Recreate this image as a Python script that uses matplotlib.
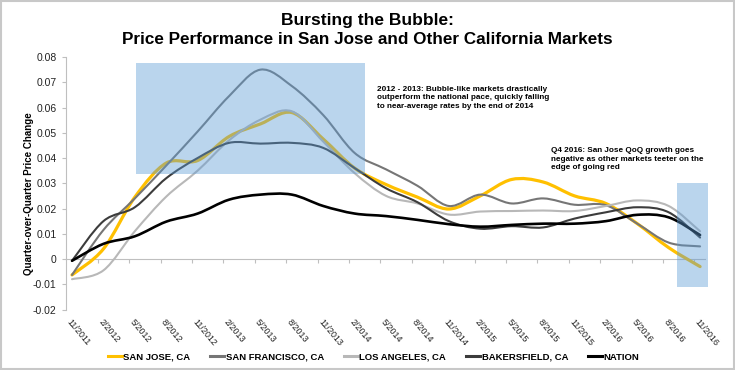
import matplotlib

matplotlib.use("Agg")
import matplotlib.pyplot as plt
import numpy as np
from matplotlib.lines import Line2D
from matplotlib.patches import PathPatch, Rectangle
from matplotlib.path import Path

plt.rcParams["font.family"] = ["Liberation Sans", "DejaVu Sans"]

# quarterly labels
quarters = [
    "11/2011", "2/2012", "5/2012", "8/2012", "11/2012", "2/2013", "5/2013",
    "8/2013", "11/2013", "2/2014", "5/2014", "8/2014", "11/2014", "2/2015",
    "5/2015", "8/2015", "11/2015", "2/2016", "5/2016", "8/2016", "11/2016",
]

san_jose = [-0.0063, 0.004, 0.0245, 0.038, 0.039, 0.0485, 0.0535, 0.058,
            0.0475, 0.036, 0.0295, 0.0245, 0.0198, 0.025, 0.0315, 0.0305,
            0.025, 0.022, 0.014, 0.0045, -0.003]
san_francisco = [-0.0063, 0.0115, 0.024, 0.037, 0.0505, 0.0645, 0.075, 0.0685,
                 0.057, 0.042, 0.0355, 0.029, 0.021, 0.0255, 0.022, 0.024,
                 0.0215, 0.0213, 0.014, 0.0065, 0.005]
los_angeles = [-0.008, -0.0045, 0.011, 0.0247, 0.035, 0.047, 0.0552, 0.0585,
               0.0465, 0.034, 0.025, 0.022, 0.0176, 0.0188, 0.019, 0.0192,
               0.019, 0.021, 0.0232, 0.021, 0.011]
bakersfield = [-0.0007, 0.015, 0.0205, 0.032, 0.040, 0.046, 0.0457, 0.046,
               0.044, 0.036, 0.028, 0.0225, 0.015, 0.012, 0.013, 0.0125,
               0.016, 0.0185, 0.0205, 0.0185, 0.0085]
nation = [-0.0007, 0.006, 0.009, 0.0148, 0.018, 0.0235, 0.0255, 0.0255,
          0.021, 0.018, 0.017, 0.0155, 0.0138, 0.0128, 0.0135, 0.014,
          0.014, 0.015, 0.0175, 0.0165, 0.0095]

series = [
    ("SAN JOSE, CA", san_jose, "#ffc000", 2.3),
    ("SAN FRANCISCO, CA", san_francisco, "#767676", 1.5),
    ("LOS ANGELES, CA", los_angeles, "#b8b8b8", 1.5),
    ("BAKERSFIELD, CA", bakersfield, "#3c3c3c", 1.5),
    ("NATION", nation, "#000000", 1.9),
]


def smooth_path(xs, ys):
    # Excel-style smoothed line: cubic bezier through every point
    xs = np.asarray(xs, float)
    ys = np.asarray(ys, float)
    pts = np.column_stack([xs, ys])
    n = len(pts)
    verts = [pts[0]]
    codes = [Path.MOVETO]
    for i in range(n - 1):
        p0 = pts[i - 1] if i > 0 else pts[i]
        p1 = pts[i]
        p2 = pts[i + 1]
        p3 = pts[i + 2] if i + 2 < n else pts[i + 1]
        c1 = p1 + (p2 - p0) / 6
        c2 = p2 - (p3 - p1) / 6
        verts += [c1, c2, p2]
        codes += [Path.CURVE4] * 3
    return Path(verts, codes)


fig = plt.figure(figsize=(7.35, 3.7), dpi=100)
ax = fig.add_axes([0.0903, 0.1635, 0.875, 0.6824])

x = np.arange(len(quarters))
handles = []
for name, vals, color, lw in series:
    patch = PathPatch(smooth_path(x, vals), fill=False, edgecolor=color,
                      lw=lw, capstyle="round", joinstyle="round", zorder=3)
    ax.add_patch(patch)
    handles.append(Line2D([], [], color=color, lw=2.2))

# highlight boxes drawn over the lines, like the original
ax.add_patch(Rectangle((2.04, 0.0337), 7.29, 0.0439, facecolor="#5b9bd5",
                       alpha=0.42, lw=0, zorder=4))
ax.add_patch(Rectangle((19.26, -0.011), 0.99, 0.0413, facecolor="#5b9bd5",
                       alpha=0.42, lw=0, zorder=4, clip_on=False))

ax.set_xlim(-0.18, 20.3)
ax.set_ylim(-0.02, 0.08)

for s in ["top", "right"]:
    ax.spines[s].set_visible(False)
ax.spines["left"].set_color("#bfbfbf")
ax.spines["bottom"].set_color("#bfbfbf")
ax.spines["bottom"].set_position(("data", 0))
ax.spines["bottom"].set_bounds(-0.18, 20.15)

yt = np.round(np.arange(-0.02, 0.081, 0.01), 2)
ax.set_yticks(yt)
ax.set_yticklabels(["0" if v == 0 else f"{v:.2f}" for v in yt])
ax.tick_params(axis="y", direction="out", length=3, color="#bfbfbf",
               labelsize=7.5, pad=4, labelcolor="#222222")

ax.set_xticks(np.arange(20) + 0.82)
ax.tick_params(axis="x", direction="out", length=3, color="#bfbfbf",
               labelbottom=False)

sec = ax.secondary_xaxis("bottom")
sec.set_xticks(x)
sec.set_xticklabels(quarters, rotation=-50, ha="left", va="top",
                    rotation_mode="anchor", fontsize=6.5, color="#222222")
sec.tick_params(length=0, pad=6)
sec.spines["bottom"].set_visible(False)

ax.set_ylabel("Quarter-over-Quarter Price Change", fontsize=7,
              fontweight="bold")
ax.yaxis.set_label_coords(-0.05, 0.46)

fig.text(0.5, 0.945, "Bursting the Bubble:", ha="center", va="center",
         fontsize=12.5, fontweight="bold")
fig.text(0.5, 0.892, "Price Performance in San Jose and Other California Markets",
         ha="center", va="center", fontsize=12.3, fontweight="bold")

ax.text(9.71, 0.0685,
        "2012 - 2013: Bubble-like markets drastically\n"
        "outperform the national pace, quickly falling\n"
        "to near-average rates by the end of 2014",
        fontsize=5.9, fontweight="bold", va="top", ha="left", linespacing=1.25)
ax.text(15.24, 0.0442,
        "Q4 2016: San Jose QoQ growth goes\n"
        "negative as other markets teeter on the\n"
        "edge of going red",
        fontsize=5.9, fontweight="bold", va="top", ha="left", linespacing=1.25)

fig.legend(handles, [s[0] for s in series], loc="center", ncol=5,
           bbox_to_anchor=(0.508, 0.035), frameon=False, handlelength=1.5,
           handletextpad=0.15, columnspacing=2.1,
           prop={"size": 6.8, "weight": "bold"})

fig.patches.append(Rectangle((0.001, 0.002), 0.997, 0.995, transform=fig.transFigure,
                             fill=False, edgecolor="#c8c8c8", lw=1.5))

fig.savefig("out.png", dpi=100)
